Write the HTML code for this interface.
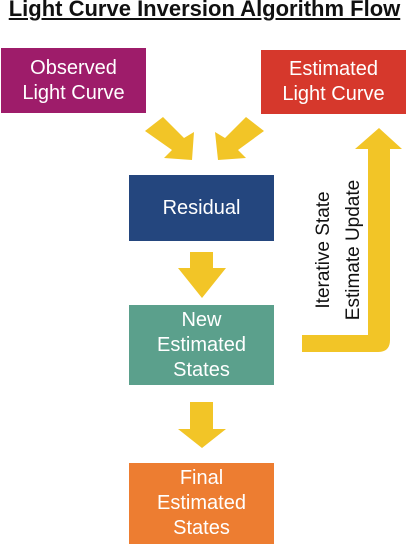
<!DOCTYPE html>
<html><head><meta charset="utf-8"><style>
body{margin:0;width:409px;height:544px;background:#fff;position:relative;overflow:hidden;font-family:"Liberation Sans","DejaVu Sans",sans-serif}
.t{position:absolute;left:0;top:-4px;width:409px;text-align:center;font-weight:bold;font-size:22px;text-decoration:underline;color:#111;letter-spacing:0px}
.b{position:absolute;color:#fff;display:flex;align-items:center;justify-content:center;text-align:center;font-size:20px;line-height:25px}
</style></head><body>
<div class="t">Light Curve Inversion Algorithm Flow</div>
<div class="b" style="left:1px;top:48px;width:145px;height:65px;background:#9E1C6A">Observed<br>Light Curve</div>
<div class="b" style="left:261px;top:50px;width:145px;height:64px;background:#D6382C">Estimated<br>Light Curve</div>
<div class="b" style="left:129px;top:175px;width:145px;height:66px;background:#24467E">Residual</div>
<div class="b" style="left:129px;top:305px;width:145px;height:80px;background:#5BA08C">New<br>Estimated<br>States</div>
<div class="b" style="left:129px;top:463px;width:145px;height:81px;background:#ED7D31">Final<br>Estimated<br>States</div>
<svg width="409" height="544" style="position:absolute;left:0;top:0">
<g fill="#F2C527">
<polygon points="145,131 163,117 184,138 194,132 192,160 164,158 172,150"/>
<polygon points="264,131 246,117 225,138 215,132 218,160 246,158 238,150"/>
<polygon points="190,252 213,252 213,268 226,268 202,298 178,268 190,268"/>
<polygon points="190,402 213,402 213,429 226,429 202,448 178,429 190,429"/>
<path d="M302,335 H368 V149 H355 L379,128 L402,149 H390 V340 Q390,352 378,352 H302 Z"/>
</g>
<g font-size="19" fill="#111" font-family="Liberation Sans, sans-serif" text-anchor="middle">
<text transform="translate(329,250) rotate(-90)">Iterative State</text>
<text transform="translate(359,250) rotate(-90)">Estimate Update</text>
</g>
</svg>
</body></html>
